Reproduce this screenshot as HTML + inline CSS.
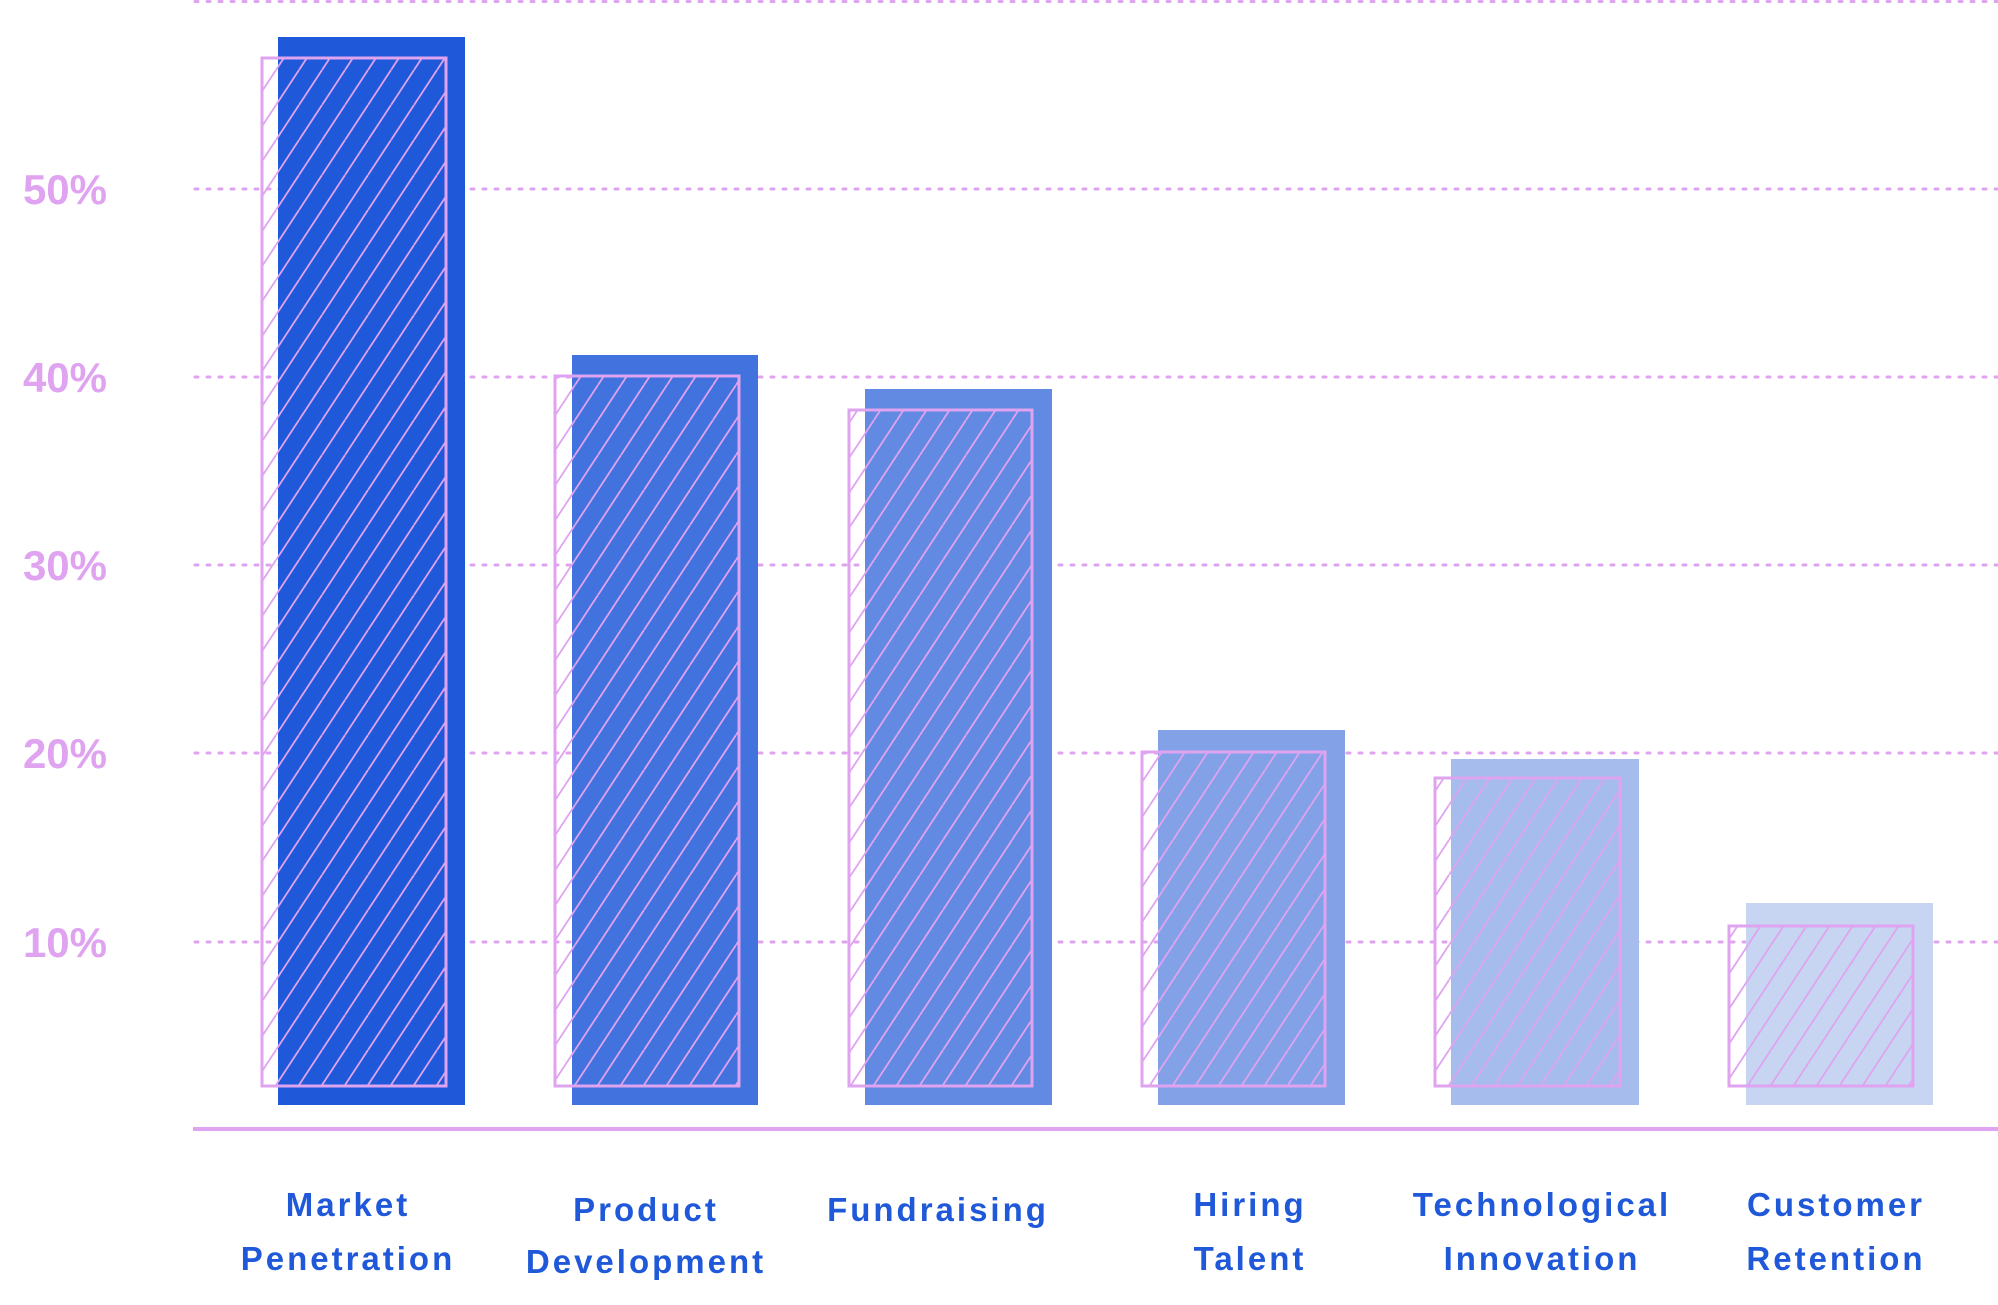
<!DOCTYPE html>
<html><head><meta charset="utf-8"><style>
html,body{margin:0;padding:0;background:#fff;}
svg{display:block;}
</style></head><body>
<svg width="1998" height="1305" viewBox="0 0 1998 1305" xmlns="http://www.w3.org/2000/svg">
<defs>
<pattern id="h" patternUnits="userSpaceOnUse" width="23" height="35" x="0" y="0">
<line x1="-23" y1="35" x2="0" y2="0" stroke="#dfa3f0" stroke-width="1.8"/>
<line x1="0" y1="35" x2="23" y2="0" stroke="#dfa3f0" stroke-width="1.8"/>
<line x1="23" y1="35" x2="46" y2="0" stroke="#dfa3f0" stroke-width="1.8"/>
</pattern>
</defs>
<g stroke="#dfa3f0" stroke-width="3" stroke-dasharray="3 9" stroke-linecap="round">
<line x1="195" y1="1.5" x2="1998" y2="1.5"/>
<line x1="195" y1="189" x2="1998" y2="189"/>
<line x1="195" y1="377" x2="1998" y2="377"/>
<line x1="195" y1="565" x2="1998" y2="565"/>
<line x1="195" y1="753" x2="1998" y2="753"/>
<line x1="195" y1="942" x2="1998" y2="942"/>
</g>
<g font-family="Liberation Sans, sans-serif" font-weight="bold" font-size="42" fill="#dfa3f0" text-anchor="end">
<text x="107" y="204">50%</text>
<text x="107" y="392">40%</text>
<text x="107" y="580">30%</text>
<text x="107" y="768">20%</text>
<text x="107" y="957">10%</text>
</g>
<rect x="278" y="37" width="187" height="1068" fill="#1f58d8"/>
<rect x="572" y="355" width="186" height="750" fill="#4272de"/>
<rect x="865" y="389" width="187" height="716" fill="#628ae2"/>
<rect x="1158" y="730" width="187" height="375" fill="#82a1e7"/>
<rect x="1451" y="759" width="188" height="346" fill="#a5bcec"/>
<rect x="1746" y="903" width="187" height="202" fill="#c7d5f2"/>
<g fill="url(#h)" stroke="#dfa3f0" stroke-width="3">
<rect x="262" y="58" width="184" height="1028"/>
<rect x="555" y="376" width="184" height="710"/>
<rect x="849" y="410" width="183" height="676"/>
<rect x="1142" y="752" width="183" height="334"/>
<rect x="1435" y="778" width="185" height="308"/>
<rect x="1729" y="926" width="184" height="160"/>
</g>
<rect x="193" y="1127" width="1805" height="4" fill="#dfa3f0"/>
<g font-family="Liberation Sans, sans-serif" font-weight="bold" font-size="33" fill="#1f58d8" text-anchor="middle" letter-spacing="3">
<text x="348" y="1216">Market</text>
<text x="348" y="1270">Penetration</text>
<text x="646" y="1221">Product</text>
<text x="646" y="1273">Development</text>
<text x="938" y="1221">Fundraising</text>
<text x="1250" y="1216">Hiring</text>
<text x="1250" y="1270">Talent</text>
<text x="1542" y="1216">Technological</text>
<text x="1542" y="1270">Innovation</text>
<text x="1836" y="1216">Customer</text>
<text x="1836" y="1270">Retention</text>
</g>
</svg>
</body></html>
